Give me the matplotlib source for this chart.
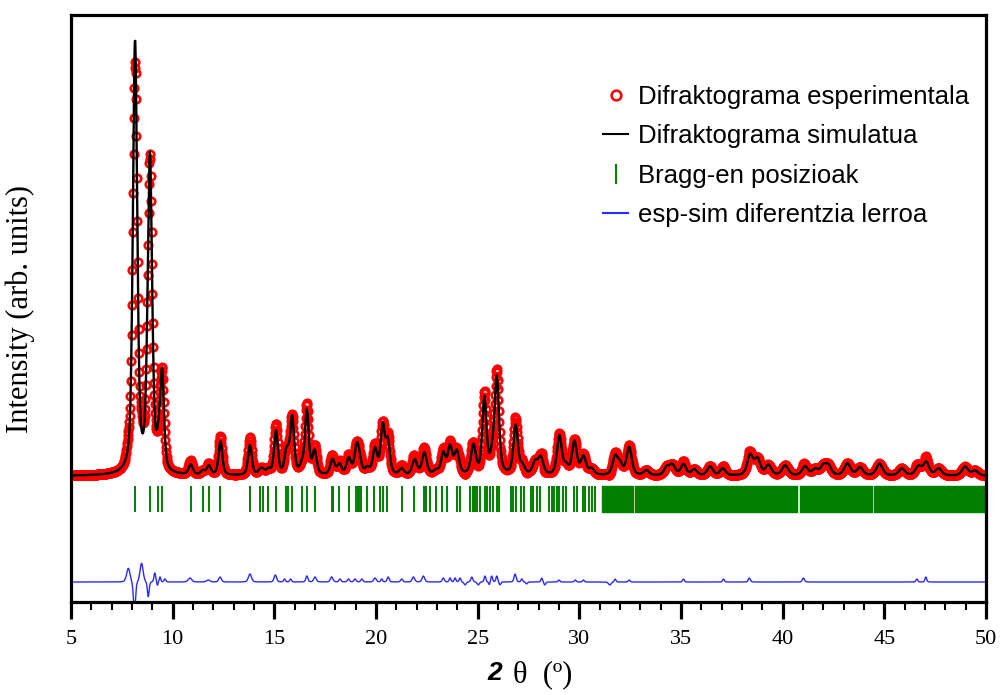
import numpy as np
import matplotlib
matplotlib.use("Agg")
import matplotlib.pyplot as plt
from matplotlib.lines import Line2D
from matplotlib.ticker import MultipleLocator

# ---------------- data ----------------
# Reflections of the simulated pattern: 2theta (deg), height (arb.), FWHM (deg)
peak_pos = [8.15, 8.88, 9.30, 9.48, 10.89, 11.48, 11.78, 12.35, 13.80, 14.30, 14.43, 14.71,
            15.08, 15.58, 15.69, 15.88, 16.35, 16.60, 16.98, 17.86, 18.20, 18.66, 19.05, 19.18,
            19.57, 19.95, 20.33, 20.58, 21.26, 21.90, 22.38, 22.95, 23.31, 23.64, 23.97, 24.79,
            25.33, 25.70, 25.94, 26.87, 27.20, 27.82, 28.10, 29.02, 29.35, 29.76, 30.20, 30.60,
            31.76, 32.00, 32.45, 33.30, 34.30, 34.58, 35.12, 35.65, 36.43, 37.05, 38.40, 38.76,
            39.30, 40.12, 41.10, 41.60, 42.00, 42.25, 43.18, 43.80, 44.76, 45.86, 46.68, 47.06,
            47.67, 48.97, 49.46]
peak_height = [432, 316, 20, 95, 10, 4, 9, 34, 30, 4, 4, 5,
               44, 17, 11, 56, 8, 64, 23, 15, 10, 16, 26, 11,
               6, 25, 48, 32, 6, 15, 22, 4, 21, 27, 23, 29,
               76, 13, 96, 49, 8, 12, 17, 39, 8, 33, 18, 6,
               18, 10, 28, 5, 8, 10, 11, 6, 9, 7, 20, 16,
               10, 10, 9, 6, 9, 9, 12, 8, 12, 7, 9, 13,
               7, 9, 5]
peak_fwhm = [0.25, 0.26, 0.22, 0.22, 0.24, 0.24, 0.24, 0.22, 0.22, 0.24, 0.24, 0.24,
             0.22, 0.22, 0.22, 0.22, 0.24, 0.22, 0.24, 0.26, 0.26, 0.26, 0.26, 0.26,
             0.26, 0.26, 0.24, 0.24, 0.26, 0.28, 0.28, 0.28, 0.26, 0.26, 0.28, 0.28,
             0.24, 0.26, 0.26, 0.26, 0.28, 0.30, 0.30, 0.28, 0.28, 0.28, 0.30, 0.30,
             0.30, 0.30, 0.30, 0.32, 0.32, 0.32, 0.32, 0.32, 0.32, 0.32, 0.34, 0.34,
             0.34, 0.36, 0.34, 0.34, 0.34, 0.34, 0.36, 0.36, 0.36, 0.36, 0.36, 0.34,
             0.36, 0.36, 0.36]

# Features of the experimental - simulated difference: 2theta, amplitude, FWHM
diff_pos = [7.82, 8.12, 8.47, 8.80, 9.12, 9.25, 9.38, 9.62, 10.85, 11.75, 12.33, 13.80,
            15.05, 15.50, 15.80, 16.60, 17.00, 17.82, 18.23, 18.64, 18.97, 19.30, 19.95,
            20.28, 20.60, 21.26, 21.84, 22.33, 23.31, 23.64, 23.89, 24.13, 24.38, 24.71,
            25.03, 25.36, 25.57, 25.69, 25.94, 26.10, 26.84, 27.17, 27.41, 28.15, 28.30,
            29.00, 29.80, 30.20, 31.50, 31.76, 32.45, 35.12, 37.09, 38.36, 41.02, 46.60, 47.04]
diff_amp = [14, -30, 19, -15, 9, -4, 5, 3, 4, 2, 5, 8,
            7, 3, 3, 6, 5, 5, 3, 3, 3, 3, 4,
            3, 5, 3, 5, 6, 4, 4, 4, 4, -3, 5,
            -3, 6, -3, 6, 6, -3, 8, 3, -2, 4, -3,
            2, 2, 2, -3, 3, 2, 3, 3, 4, 4, 3, 5]
diff_fwhm = [0.20, 0.12, 0.18, 0.10, 0.10, 0.06, 0.08, 0.10, 0.20, 0.20, 0.15, 0.18,
             0.15, 0.10, 0.10, 0.12, 0.15, 0.15, 0.12, 0.12, 0.12, 0.12, 0.15,
             0.10, 0.12, 0.12, 0.15, 0.15, 0.12, 0.10, 0.10, 0.10, 0.12, 0.12,
             0.12, 0.10, 0.08, 0.10, 0.10, 0.10, 0.12, 0.10, 0.10, 0.10, 0.10,
             0.10, 0.10, 0.10, 0.15, 0.10, 0.10, 0.10, 0.10, 0.12, 0.12, 0.10, 0.10]

# Bragg positions (resolved lines) and unresolved dense clusters (start, end)
bragg_pos = [8.15, 8.89, 9.30, 9.49, 10.89, 11.48, 11.80, 12.33, 13.80, 14.30, 14.43, 14.71,
             15.08, 15.58, 15.69, 15.86, 16.35, 16.63, 17.00, 17.84, 17.90, 18.20, 18.69,
             19.02, 19.09, 19.18, 19.28, 19.57, 19.90, 20.20, 20.33, 20.53, 21.26, 21.87,
             22.36, 22.46, 22.66, 22.95, 23.23, 23.48, 23.97, 24.13, 24.63, 24.76, 24.87,
             24.99, 25.12, 25.36, 25.48, 25.61, 25.74, 25.94, 26.07, 26.63, 26.76, 26.89,
             27.12, 27.28, 27.61, 27.74, 27.90, 28.07, 28.53, 28.64, 28.76, 28.89, 29.02,
             29.18, 29.35, 29.74, 29.87, 30.17, 30.30, 30.46, 30.61, 30.77]
bragg_bands = [(31.10, 32.65), (32.75, 40.70), (40.85, 44.38), (44.50, 50.00)]

x_ticks = [5, 10, 15, 20, 25, 30, 35, 40, 45, 50]

step = 0.02
two_theta = np.arange(5.0, 50.0 + step / 2, step)


def pseudo_voigt(x, pos, amp, fwhm, eta=0.5):
    y = np.zeros_like(x)
    for p, a, w in zip(pos, amp, fwhm):
        d = (x - p) / (w / 2.0)
        y += a * (eta / (1.0 + d ** 2) + (1 - eta) * np.exp(-np.log(2) * d ** 2))
    return y


simulated = pseudo_voigt(two_theta, peak_pos, peak_height, peak_fwhm)
difference = pseudo_voigt(two_theta, diff_pos, diff_amp, diff_fwhm, eta=0.3)
experimental = simulated + difference

pattern_offset = 126
diff_offset = 20
bragg_low, bragg_high = 90, 116

# ---------------- figure ----------------
fig = plt.figure(figsize=(10, 6.95), dpi=100)
ax = fig.add_axes([0.071, 0.1338, 0.915, 0.8446])

ax.plot(two_theta, experimental + pattern_offset, ls="none", marker="o", ms=5.4,
        mfc="none", mec="#ff0000", mew=1.9, zorder=2)
ax.plot(two_theta, simulated + pattern_offset, color="black", lw=1.7, zorder=3)
ax.vlines(bragg_pos, bragg_low, bragg_high, color="#008000", lw=1.4, zorder=2)
ax.broken_barh([(s, e - s) for s, e in bragg_bands], (bragg_low, bragg_high - bragg_low),
               color="#008000", zorder=2)
ax.plot(two_theta, difference + diff_offset, color="#2a2aff", lw=1.0, zorder=2)

ax.set_xlim(5, 50)
ax.set_ylim(0, 587)
ax.set_xticks(x_ticks)
ax.xaxis.set_minor_locator(MultipleLocator(1))
ax.set_yticks([])
for s in ax.spines.values():
    s.set_linewidth(2.3)
ax.tick_params(axis="x", which="major", length=12, width=2.3, direction="out", pad=8,
               labelsize=16)
ax.tick_params(axis="x", which="minor", length=6, width=1.5, direction="out")
for lab in ax.get_xticklabels():
    lab.set_fontfamily("Liberation Serif")

ax.set_ylabel("Intensity (arb. units)", fontfamily="Liberation Serif", fontsize=22)
ax.yaxis.set_label_coords(-0.039, 0.5)

# x-axis label: bold italic "2" followed by serif theta
fig.text(0.487, 0.021, "2", fontfamily="Liberation Sans", fontweight="bold",
         fontstyle="italic", fontsize=19, ha="left", va="baseline")
fig.text(0.513, 0.018, "\u03b8  (\u00ba)", fontfamily="Liberation Serif", fontsize=22,
         ha="left", va="baseline")

handles = [
    Line2D([], [], ls="none", marker="o", ms=7, mfc="none", mec="#ff0000", mew=1.8),
    Line2D([], [], color="black", lw=1.5),
    Line2D([], [], ls="none", marker="|", ms=15, mec="#008000", mew=1.5),
    Line2D([], [], color="#2a2aff", lw=1.5),
]
labels = ["Difraktograma esperimentala", "Difraktograma simulatua",
          "Bragg-en posizioak", "esp-sim diferentzia lerroa"]
leg = ax.legend(handles, labels, loc="upper left", bbox_to_anchor=(0.603, 0.878),
                bbox_transform=fig.transFigure, frameon=False, borderpad=0,
                borderaxespad=0, handlelength=0.98, handletextpad=0.4,
                labelspacing=0.6, prop={"family": "Liberation Sans", "size": 18.5})

fig.savefig("out.png", dpi=100)
